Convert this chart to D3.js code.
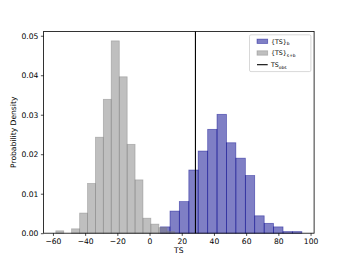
<!DOCTYPE html>
<html>
<head>
<meta charset="utf-8">
<script src="https://cdn.jsdelivr.net/npm/d3@7"></script>
<style>
  body { margin: 0; background: #fff; }
  svg { display: block; font-family: "DejaVu Sans", sans-serif; }
</style>
</head>
<body>
<svg id="chart" width="349" height="262"></svg>
<script>
// background distribution {TS}_b
var bEdges = [6.8, 12.7, 18.5, 24.4, 30.2, 36.1, 41.9, 47.8, 53.6, 59.5, 65.3, 71.2, 77.0, 82.9, 88.7, 94.6];
var bDensity = [0.0016, 0.0056, 0.0080, 0.0160, 0.0208, 0.0263, 0.0301, 0.0229, 0.0190, 0.0146, 0.0044, 0.0025, 0.0016, 0.0004, 0.0004];

// signal + background {TS}_s+b
var sbEdges = [-58.2, -53.3, -48.4, -43.4, -38.5, -33.6, -28.7, -23.8, -18.8, -13.9, -9.0, -4.1, 0.8, 5.8, 10.7, 15.6];
var sbDensity = [0.0006, 0, 0.0011, 0.0051, 0.0126, 0.0243, 0.0339, 0.0487, 0.0396, 0.0225, 0.0135, 0.0038, 0.0023, 0.0014, 0.0004];

var tsObs = 28.5;

var xTicks = [-60, -40, -20, 0, 20, 40, 60, 80, 100];
var yTicks = [0, 0.01, 0.02, 0.03, 0.04, 0.05];

var svg = d3.select("#chart");
// note: "top" is taken by window.top, so plot box gets its own names
var pL = 43.6, pR = 314.1, pT = 31.4, pB = 233.2;

var x = d3.scaleLinear().domain([-65.8, 102.2]).range([pL, pR]);
var y = d3.scaleLinear().domain([0, 0.0511]).range([pB, pT]);

function bins(edges, vals) {
    return vals.map(function(v, i) { return {x0: edges[i], x1: edges[i + 1], v: v}; });
}

var plot = svg.append("g");

function drawHist(data, col) {
    plot.selectAll(null)
        .data(data.filter(function(d) { return d.v > 0; }))
        .enter().append("rect")
        .attr("x", function(d) { return x(d.x0); })
        .attr("y", function(d) { return y(d.v); })
        .attr("width", function(d) { return x(d.x1) - x(d.x0); })
        .attr("height", function(d) { return y(0) - y(d.v); })
        .attr("fill", col)
        .attr("fill-opacity", 0.5)
        .attr("stroke", col)
        .attr("stroke-opacity", 0.5)
        .attr("stroke-width", 0.76);
}

drawHist(bins(bEdges, bDensity), "rgb(0,0,139)");
drawHist(bins(sbEdges, sbDensity), "rgb(128,128,128)");

// observed TS
plot.append("line")
    .attr("x1", x(tsObs)).attr("x2", x(tsObs))
    .attr("y1", pT).attr("y2", pB)
    .attr("stroke", "#000").attr("stroke-width", 1.1);

// axes
var fmtX = function(d) { return d < 0 ? "\u2212" + Math.abs(d) : "" + d; };
var xAxis = d3.axisBottom(x).tickValues(xTicks).tickFormat(fmtX).tickSize(2.7).tickPadding(2.5);
var yAxis = d3.axisLeft(y).tickValues(yTicks).tickFormat(d3.format(".2f")).tickSize(2.7).tickPadding(2.5);

var gx = svg.append("g").attr("transform", "translate(0," + pB + ")").call(xAxis);
var gy = svg.append("g").attr("transform", "translate(" + pL + ",0)").call(yAxis);
[gx, gy].forEach(function(g) {
    g.select(".domain").remove();
    g.selectAll("line").attr("stroke", "#000").attr("stroke-width", 0.7);
    g.selectAll("text").attr("fill", "#000").style("font-size", "7.6px").style("font-family", "DejaVu Sans");
});

// spines
svg.append("rect")
    .attr("x", pL).attr("y", pT)
    .attr("width", pR - pL).attr("height", pB - pT)
    .attr("fill", "none").attr("stroke", "#000").attr("stroke-width", 0.8);

// labels
svg.append("text")
    .attr("x", (pL + pR) / 2).attr("y", 253)
    .attr("text-anchor", "middle").style("font-size", "7.6px")
    .text("TS");
svg.append("text")
    .attr("transform", "translate(16," + ((pT + pB) / 2) + ") rotate(-90)")
    .attr("text-anchor", "middle").style("font-size", "7.6px")
    .text("Probability Density");

// legend
var leg = svg.append("g");
leg.append("rect")
    .attr("x", 249.5).attr("y", 34.8)
    .attr("width", 61.4).attr("height", 36.8)
    .attr("rx", 1.5)
    .attr("fill", "#fff").attr("fill-opacity", 0.8)
    .attr("stroke", "#ccc").attr("stroke-width", 0.76);

var legItems = [
    {main: "{TS}", sub: "b", kind: "patch", col: "rgb(0,0,139)"},
    {main: "{TS}", sub: "s+b", kind: "patch", col: "rgb(128,128,128)"},
    {main: "TS", sub: "obs", kind: "line", col: "#000"}
];

legItems.forEach(function(d, i) {
    var cy = 41.3 + i * 11.7;
    if (d.kind === "patch") {
        leg.append("rect")
            .attr("x", 257).attr("y", cy - 2.2)
            .attr("width", 10.7).attr("height", 4.4)
            .attr("fill", d.col).attr("fill-opacity", 0.5)
            .attr("stroke", d.col).attr("stroke-opacity", 0.5).attr("stroke-width", 0.76);
    } else {
        leg.append("line")
            .attr("x1", 257).attr("x2", 267.7)
            .attr("y1", cy).attr("y2", cy)
            .attr("stroke", "#000").attr("stroke-width", 1.1);
    }
    var t = leg.append("text")
        .attr("x", 271).attr("y", cy + 2.2)
        .style("font-size", "6.3px");
    t.append("tspan").text(d.main);
    t.append("tspan").attr("dy", 1.6).style("font-size", "4.4px").text(d.sub);
});
</script>
</body>
</html>
